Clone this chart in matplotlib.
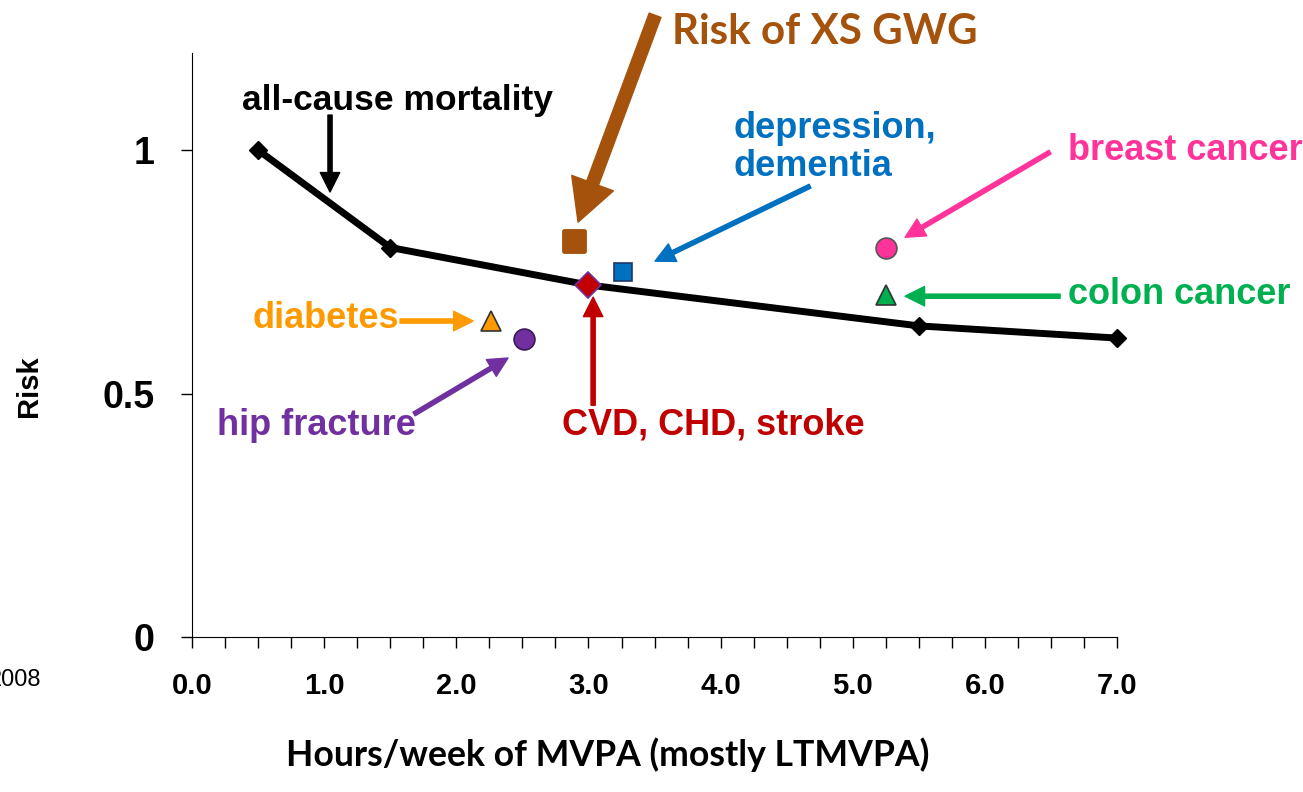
import matplotlib
matplotlib.use("Agg")
import matplotlib.pyplot as plt
from matplotlib.markers import MarkerStyle

# all-cause mortality curve
curve_x = [0.5, 1.5, 3.0, 5.5, 7.0]
curve_y = [1.0, 0.8, 0.723, 0.639, 0.614]

# single-outcome points
pt_names = ["Risk of XS GWG", "depression, dementia", "CVD, CHD, stroke", "diabetes",
            "hip fracture", "breast cancer", "colon cancer"]
pt_x = [2.89, 3.26, 3.0, 2.26, 2.51, 5.25, 5.25]
pt_y = [0.814, 0.750, 0.723, 0.650, 0.613, 0.798, 0.702]
pt_colors = ["#A5520C", "#0070C0", "#C00000", "#FF9900", "#7030A0", "#FF3399", "#00B050"]
pt_edges = ["#A5520C", "#1F3864", "#7030A0", "#333333", "#3A1A55", "#555555", "#333333"]
pt_markers = ["s", "s", "D", "^", "o", "o", "^"]
pt_sizes = [15, 13, 13, 15, 15, 15, 14]

x_ticks = [0, 1, 2, 3, 4, 5, 6, 7]
y_ticks = [0, 0.5, 1]

fig = plt.figure(figsize=(13.03, 7.92), dpi=100)
ax = fig.add_axes([0.1474, 0.1957, 0.7099, 0.7377])

ax.plot(curve_x, curve_y, color="black", lw=5, marker="D", ms=9, zorder=3, clip_on=False)

for i in range(len(pt_x)):
    m = MarkerStyle(pt_markers[i], joinstyle="round") if i == 0 else pt_markers[i]
    ax.plot(pt_x[i], pt_y[i], marker=m, ms=pt_sizes[i], color=pt_colors[i],
            mec=pt_edges[i], mew=3.5 if i == 0 else 1.2, ls="none", zorder=4)

ax.set_xlim(0, 7)
ax.set_ylim(0, 1.2)
ax.spines["top"].set_visible(False)
ax.spines["right"].set_visible(False)
ax.set_xticks(x_ticks)
ax.set_xticklabels([f"{v:.1f}" for v in x_ticks], fontsize=21, fontweight="bold",
                   family="Liberation Sans")
ax.set_xticks([v / 4 for v in range(29)], minor=True)
ax.set_yticks(y_ticks)
ax.set_yticklabels(["0", "0.5", "1"], fontsize=27, fontweight="bold", family="Liberation Sans")
ax.tick_params(axis="x", which="both", length=8, width=1, pad=17)
ax.tick_params(axis="y", length=8, width=1, pad=19)

fig.text(608 / 1303, 1 - 755 / 792, "Hours/week of MVPA (mostly LTMVPA)", fontsize=25.7,
         fontweight="bold", family="Lato", ha="center", va="center")
fig.text(0.022, 0.512, "Risk", rotation=90, ha="center", va="center", fontsize=21,
         fontweight="bold", family="Liberation Sans")
fig.text(0.032, 0.141, "2008", ha="right", va="center", fontsize=17, family="Liberation Sans")


def arrow(tail, tip, color, hl=14, hw=14, tw=3):
    ax.annotate("", xy=tip, xytext=tail, annotation_clip=False,
                arrowprops=dict(arrowstyle=f"simple,head_length={hl},head_width={hw},tail_width={tw}",
                                mutation_scale=1, color=color, shrinkA=0, shrinkB=0))


def label(x, y, s, color, **kw):
    ax.text(x, y, s, color=color, fontsize=kw.pop("fontsize", 26), fontweight="bold",
            family=kw.pop("family", "Liberation Sans"), va="center", ha=kw.pop("ha", "left"),
            clip_on=False, **kw)


label(1.551, 1.101, "all-cause mortality", "black", ha="center", fontsize=25.5)
arrow((1.044, 1.072), (1.044, 0.914), "black")

label(3.633, 1.243, "Risk of XS GWG", "#A5520C", family="Lato", fontsize=30.3)
arrow((3.504, 1.277), (2.921, 0.852), "#A5520C", hl=30, hw=32, tw=9)

label(4.094, 1.006, "depression,\ndementia", "#0070C0", linespacing=1.12)
arrow((4.677, 0.926), (3.504, 0.772), "#0070C0")

label(6.629, 1.0, "breast cancer", "#FF3399")
arrow((6.493, 0.996), (5.396, 0.821), "#FF3399")

label(6.629, 0.704, "colon cancer", "#00B050")
arrow((6.569, 0.700), (5.396, 0.700), "#00B050")

label(0.454, 0.655, "diabetes", "#FF9900")
arrow((1.574, 0.649), (2.127, 0.649), "#FF9900")

label(0.189, 0.435, "hip fracture", "#7030A0")
arrow((1.680, 0.458), (2.391, 0.573), "#7030A0")

label(2.800, 0.435, "CVD, CHD, stroke", "#C00000")
arrow((3.035, 0.476), (3.035, 0.698), "#C00000")

fig.savefig("out.png", dpi=100)
